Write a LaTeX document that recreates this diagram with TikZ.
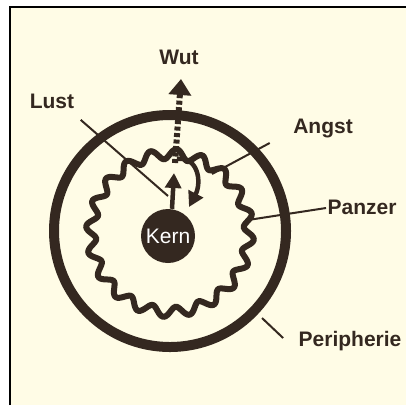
\documentclass[tikz,border=0pt]{standalone}
\usepackage{fontspec}
\setmainfont{Liberation Sans}
\usepackage{xcolor}
\usetikzlibrary{arrows.meta,positioning,calc}
\definecolor{ink}{RGB}{52,40,32}
\definecolor{paper}{RGB}{255,252,230}

\begin{document}
\begin{tikzpicture}[x=1pt, y=-1pt,
  every node/.style={font=\fontsize{21}{24}\selectfont\bfseries, text=ink},
  leader/.style={draw=ink, line width=2pt},
  drive/.style={draw=ink, line width=4.5pt, -{Triangle[length=15pt,width=16pt]}}]
% paper and frame
\useasboundingbox (0,0) rectangle (406,405);
\fill[white] (0,0) rectangle (406,405);
\fill[paper] (10,7) rectangle (406,405);
\draw[black, line width=2.5pt] (10,405) -- (10,7) -- (406,7);
% Peripherie and Panzer
\draw[ink, line width=10pt] (170,231) circle [radius=116pt];
\draw[ink, line width=6pt, smooth, samples=361, domain=0:360, variable=\t]
  plot ({170+(79+5*sin(20*\t))*cos(\t)}, {233+(79+5*sin(20*\t))*sin(\t)}) -- cycle;
% Kern
\node[circle, fill=ink, minimum size=54pt, inner sep=0pt, text=white,
  font=\fontsize{21}{24}\selectfont] (kern) at (168,236) {Kern};
% labels
\node (wut) at (179,57) {Wut};
\node (lust) at (52,101) {Lust};
\node (angst) at (323,128) {Angst};
\node (panzer) at (362,207) {Panzer};
\node (peri) at (350,341) {Peripherie};
% leader ends
\coordinate (lustend) at (168,196);
\coordinate (angstend) at (212,174);
\coordinate (panzerend) at (248,220);
\coordinate (periend) at (262,318);
\draw[leader] (lust.south east) ++(3,8) -- (lustend);
\draw[leader] (angst.south west) ++(-20,2) -- (angstend);
\draw[leader] (panzer.west) ++(2,1) -- (panzerend);
\draw[leader] (peri.west) ++(-12,-3) -- (periend);
% drives
\draw[drive] (kern.north) ++(4,0) -- (174,173);
\coordinate (angstfrom) at (177,159);
\draw[drive] (angstfrom) .. controls (198,156) and (202,182) .. (189,207);
\coordinate (wuttip) at (181,79);
\draw[ink, line width=6pt, dash pattern=on 4pt off 2.5pt,
  -{Triangle[length=16pt,width=22pt]}] (175,163) -- (wuttip);
\end{tikzpicture}
\end{document}
